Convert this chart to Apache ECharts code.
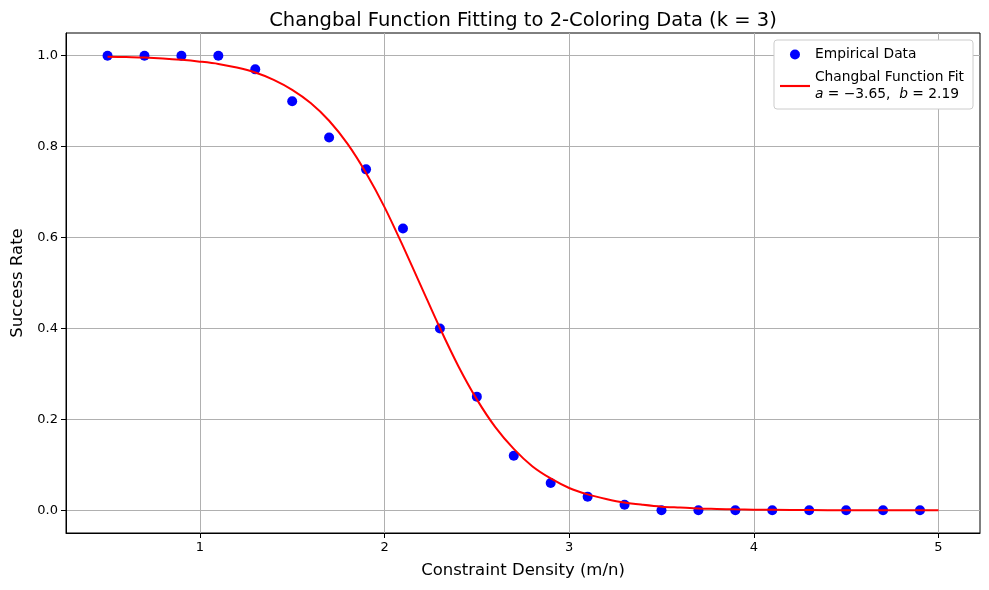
<!DOCTYPE html>
<html>
<head>
<meta charset="utf-8">
<script src="https://cdn.jsdelivr.net/npm/echarts@6/dist/echarts.min.js"></script>
<style>html,body{margin:0;padding:0;background:#fff}#c{width:989px;height:590px}</style>
</head>
<body>
<div id="c"></div>
<script>
const densityX = [0.5,0.7,0.9,1.1,1.3,1.5,1.7,1.9,2.1,2.3,2.5,2.7,2.9,3.1,3.3,3.5,3.7,3.9,4.1,4.3,4.5,4.7,4.9];
const successRate = [1.0,1.0,1.0,1.0,0.97,0.90,0.82,0.75,0.62,0.40,0.25,0.12,0.06,0.03,0.012,0.0,0.0,0.0,0.0,0.0,0.0,0.0,0.0];
const fitX = [0.5,0.6,0.7,0.8,0.9,1.0,1.1,1.2,1.3,1.4,1.5,1.6,1.7,1.8,1.9,2.0,2.1,2.2,2.3,2.4,2.5,2.6,2.7,2.8,2.9,3.0,3.1,3.2,3.3,3.4,3.5,3.6,3.7,3.8,3.9,4.0,4.2,4.4,4.6,4.8,5.0];
const fitY = [0.998,0.997,0.996,0.994,0.991,0.987,0.982,0.974,0.963,0.947,0.925,0.896,0.857,0.806,0.742,0.667,0.581,0.491,0.401,0.317,0.244,0.183,0.135,0.097,0.070,0.049,0.035,0.025,0.017,0.012,0.008,0.006,0.004,0.003,0.002,0.0014,0.0007,0.0003,0.00015,0.00007,0.00003];
const xTicks = [1,2,3,4,5];
const yTicks = [0.0,0.2,0.4,0.6,0.8,1.0];

const chart = echarts.init(document.getElementById('c'));
const font = 'DejaVu Sans';
chart.setOption({
  animation: false,
  textStyle: {fontFamily: font},
  title: {
    text: 'Changbal Function Fitting to 2-Coloring Data (k = 3)',
    left: 518, top: 6, textAlign: 'center',
    textStyle: {fontFamily: font, fontSize: 19.5, fontWeight: 'normal', color: '#000'}
  },
  grid: {left: 66, right: 9, top: 33, bottom: 57, show: true, borderColor: '#000', borderWidth: 1, containLabel: false},
  legend: {
    orient: 'vertical', right: 16, top: 40,
    backgroundColor: '#fff', borderColor: '#cccccc', borderWidth: 1, borderRadius: 3,
    padding: [6, 9, 6, 6], itemGap: 6, itemWidth: 30, itemHeight: 10,
    textStyle: {fontFamily: font, fontSize: 13.8, color: '#000', lineHeight: 17,
      rich: {i: {fontStyle: 'italic', fontFamily: font, fontSize: 13.8, lineHeight: 17}}},
    data: [
      {name: 'Empirical Data', icon: 'circle'},
      {name: 'Changbal Function Fit', icon: 'path://M0,0H28V2H0Z'}
    ],
    formatter: function (name) {
      if (name === 'Changbal Function Fit') return 'Changbal Function Fit\n{i|a} = −3.65,  {i|b} = 2.19';
      return name;
    }
  },
  xAxis: {
    type: 'value', min: 0.275, max: 5.225,
    name: 'Constraint Density (m/n)', nameLocation: 'middle', nameGap: 29,
    nameTextStyle: {fontFamily: font, fontSize: 16.5, color: '#000'},
    axisLine: {show: true, onZero: false, lineStyle: {color: '#000'}},
    axisTick: {show: true, length: 5, customValues: xTicks, lineStyle: {color: '#000'}},
    axisLabel: {customValues: xTicks, fontFamily: font, fontSize: 13, color: '#000', margin: 8},
    splitLine: {show: true, lineStyle: {color: '#b0b0b0', width: 1}}
  },
  yAxis: {
    type: 'value', min: -0.05, max: 1.05,
    name: 'Success Rate', nameLocation: 'middle', nameGap: 39, nameRotate: 90,
    nameTextStyle: {fontFamily: font, fontSize: 16.5, color: '#000'},
    axisLine: {show: true, onZero: false, lineStyle: {color: '#000'}},
    axisTick: {show: true, length: 5, customValues: yTicks, lineStyle: {color: '#000'}},
    axisLabel: {customValues: yTicks, fontFamily: font, fontSize: 13, color: '#000', margin: 8,
      formatter: v => v.toFixed(1)},
    splitLine: {show: true, lineStyle: {color: '#b0b0b0', width: 1}}
  },
  series: [
    {
      name: 'Empirical Data', type: 'scatter', symbolSize: 10,
      itemStyle: {color: '#0000ff', opacity: 1},
      data: densityX.map((x, i) => [x, successRate[i]]), z: 3
    },
    {
      name: 'Changbal Function Fit', type: 'line', smooth: 0.3, showSymbol: false,
      lineStyle: {color: '#ff0000', width: 2}, itemStyle: {color: '#ff0000'},
      data: fitX.map((x, i) => [x, fitY[i]]), z: 4
    }
  ]
});
</script>
</body>
</html>
